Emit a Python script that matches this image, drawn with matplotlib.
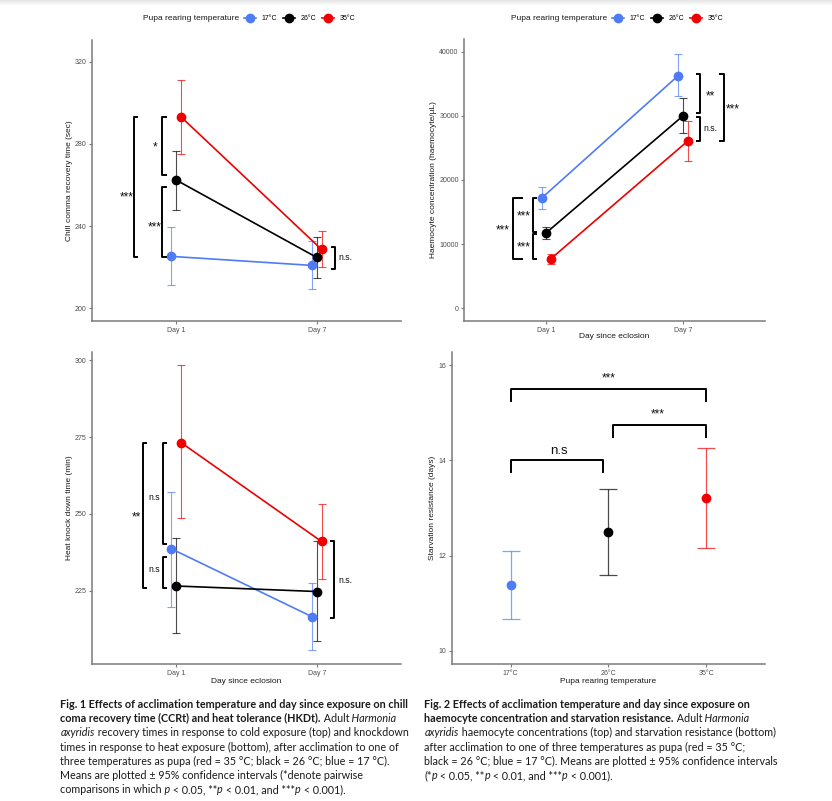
import numpy as np
import matplotlib
matplotlib.use('Agg')
import matplotlib.pyplot as plt

plt.rcParams['font.family'] = ['Liberation Sans', 'DejaVu Sans']

days = ['Day 1', 'Day 7']
temps = ['17°C', '26°C', '35°C']
temp_colors = ['#4f7cf6', 'black', '#ee0000']

# rows = 17, 26, 35 °C ; cols = day 1, day 7
ccrt_mean = [[225.2, 220.8], [262.4, 224.7], [293.2, 228.6]]
ccrt_lo = [[211.1, 209.1], [248.0, 214.5], [275.1, 220.0]]
ccrt_hi = [[239.7, 232.8], [276.7, 234.5], [311.2, 237.4]]

hae_mean = [[17180, 36290], [11780, 30000], [7730, 26060]]
hae_lo = [[15510, 33020], [10840, 27300], [6900, 23000]]
hae_hi = [[18850, 39610], [12710, 32800], [8460, 29180]]

hkdt_mean = [[238.6, 216.5], [226.5, 224.7], [273.2, 241.0]]
hkdt_lo = [[219.8, 205.5], [211.2, 208.5], [248.6, 228.7]]
hkdt_hi = [[257.2, 227.6], [242.1, 241.0], [298.5, 253.3]]

starv_mean = [11.38, 12.50, 13.21]
starv_lo = [10.66, 11.59, 12.16]
starv_hi = [12.10, 13.41, 14.26]

W, H = 832, 801
fig = plt.figure(figsize=(W / 100, H / 100), dpi=100)
dodge = [-0.034, 0.0, 0.034]


def px_axes(left, top, right, bottom):
    return fig.add_axes([left / W, 1 - bottom / H, (right - left) / W, (bottom - top) / H])


def style_axes(ax):
    for s in ['top', 'right']:
        ax.spines[s].set_visible(False)
    for s in ['left', 'bottom']:
        ax.spines[s].set_color('#7a7a7a')
        ax.spines[s].set_linewidth(1.1)
    ax.tick_params(colors='#7a7a7a', labelcolor='#4d4d4d', labelsize=5,
                   length=2.5, width=0.8, pad=1.5)


def day_panel(ax, mean, lo, hi, ylim, yticks):
    x = np.arange(1, len(days) + 1)
    handles = []
    for i, c in enumerate(temp_colors):
        m = np.array(mean[i], dtype=float)
        err = [m - np.array(lo[i]), np.array(hi[i]) - m]
        ax.errorbar(x + dodge[i], m, yerr=err, fmt='none', ecolor=c, alpha=0.7,
                    elinewidth=0.8, capsize=3.2, capthick=0.8, zorder=2)
        h, = ax.plot(x + dodge[i], m, color=c, lw=1.2, marker='o', ms=6, zorder=3)
        handles.append(h)
    ax.set_xticks(x, days)
    ax.set_xlim(0.4, 2.6)
    ax.set_ylim(ylim)
    ax.set_yticks(yticks)
    style_axes(ax)
    return handles


def vbracket(ax, x, y0, y1, tick):
    ax.plot([x + tick, x, x, x + tick], [y0, y0, y1, y1], color='black', lw=1.4,
            solid_capstyle='butt', clip_on=False, zorder=5)


def label(ax, x, y, txt, fs, rise):
    # rise = visual centre of the glyphs above the baseline, in em
    ax.annotate(txt, (x, y), xytext=(0, -rise * fs), textcoords='offset points',
                ha='center', va='baseline', fontsize=fs, color='#111111')


def stars(ax, x, y, txt, fs=8.5):
    label(ax, x, y, txt, fs, 0.57)


def ns(ax, x, y, txt, fs=6.3):
    label(ax, x, y, txt, fs, 0.27)


def top_legend(ax, handles, title_right, key_left, y):
    fig.text(title_right / W, 1 - y / H, 'Pupa rearing temperature', ha='right',
             va='center', fontsize=6, color='#1a1a1a')
    ax.legend(handles, temps, ncol=3, loc='center left',
              bbox_to_anchor=(key_left / W, 1 - y / H), bbox_transform=fig.transFigure,
              frameon=False, fontsize=5, handlelength=1.7, handletextpad=0.8,
              columnspacing=0.9, borderpad=0, borderaxespad=0)


# faint page shadow along the top edge
shade = fig.add_axes([0, 1 - 6 / H, 1, 6 / H])
shade.imshow(np.linspace(0.9, 1.0, 20).reshape(-1, 1), cmap='gray', vmin=0, vmax=1,
             aspect='auto')
shade.axis('off')

# ---- chill coma recovery
ax1 = px_axes(92, 40, 401, 321)
h1 = day_panel(ax1, ccrt_mean, ccrt_lo, ccrt_hi, (193.7, 330.7), [200, 240, 280, 320])
ax1.set_ylabel('Chill comma recovery time (sec)', fontsize=6, color='#1a1a1a')
ax1.yaxis.set_label_coords(-0.062, 0.5)
top_legend(ax1, h1, 239.5, 244, 19)
vbracket(ax1, 0.70, 224.9, 293.2, 0.03)
stars(ax1, 0.648, 255.9, '***')
vbracket(ax1, 0.90, 265.0, 293.2, 0.033)
stars(ax1, 0.85, 280.0, '*')
vbracket(ax1, 0.90, 224.9, 259.2, 0.033)
stars(ax1, 0.848, 241.0, '***')
vbracket(ax1, 2.129, 219.2, 229.9, -0.03)
ns(ax1, 2.205, 224.5, 'n.s.')

# ---- haemocytes
ax2 = px_axes(464.3, 39, 765, 321)
h2 = day_panel(ax2, hae_mean, hae_lo, hae_hi, (-1980, 41980),
               [0, 10000, 20000, 30000, 40000])
ax2.set_ylabel('Haemocyte concentration (haemocyte/µL)', fontsize=6, color='#1a1a1a')
ax2.yaxis.set_label_coords(-0.092, 0.5)
ax2.set_xlabel('Day since eclosion', fontsize=6, color='#1a1a1a')
ax2.xaxis.set_label_coords(0.5, -0.042)
top_legend(ax2, h2, 607.5, 612, 19)
vbracket(ax2, 0.754, 7730, 17180, 0.078)
stars(ax2, 0.681, 12710, '***')
vbracket(ax2, 0.902, 11900, 17180, 0.03)
stars(ax2, 0.834, 14890, '***')
vbracket(ax2, 0.902, 7730, 11570, 0.03)
stars(ax2, 0.834, 10060, '***')
vbracket(ax2, 2.123, 30370, 36450, -0.028)
stars(ax2, 2.20, 33540, '**')
vbracket(ax2, 2.123, 26060, 29840, -0.028)
ns(ax2, 2.20, 27930, 'n.s.')
vbracket(ax2, 2.297, 26060, 36450, -0.03)
stars(ax2, 2.365, 31510, '***')

# ---- heat knock down
ax3 = px_axes(92, 351.7, 401, 664.3)
h3 = day_panel(ax3, hkdt_mean, hkdt_lo, hkdt_hi, (201.0, 302.8), [225, 250, 275, 300])
ax3.set_ylabel('Heat knock down time (min)', fontsize=6, color='#1a1a1a')
ax3.yaxis.set_label_coords(-0.062, 0.5)
ax3.set_xlabel('Day since eclosion', fontsize=6, color='#1a1a1a')
ax3.xaxis.set_label_coords(0.5, -0.043)
vbracket(ax3, 0.762, 226.0, 273.1, 0.033)
stars(ax3, 0.719, 250.2, '**')
vbracket(ax3, 0.905, 240.1, 273.1, 0.029)
ns(ax3, 0.843, 255.4, 'n.s')
vbracket(ax3, 0.905, 226.0, 236.0, 0.029)
ns(ax3, 0.843, 231.7, 'n.s')
vbracket(ax3, 2.126, 216.1, 241.0, -0.031)
ns(ax3, 2.207, 228.3, 'n.s.')

# ---- starvation resistance
ax4 = px_axes(452, 351.7, 765, 664.3)
xt = np.arange(1, len(temps) + 1)
for i, c in enumerate(temp_colors):
    m = starv_mean[i]
    ax4.errorbar([xt[i]], [m], yerr=[[m - starv_lo[i]], [starv_hi[i] - m]], fmt='none',
                 ecolor=c, alpha=0.7, elinewidth=0.9, capsize=6.7, capthick=0.9, zorder=2)
    ax4.plot([xt[i]], [m], 'o', color=c, ms=6, zorder=3)
ax4.set_xticks(xt, temps)
ax4.set_xlim(0.4, 3.6)
ax4.set_ylim(9.71, 16.29)
ax4.set_yticks([10, 12, 14, 16])
style_axes(ax4)
ax4.set_ylabel('Starvation resistance (days)', fontsize=6, color='#1a1a1a')
ax4.yaxis.set_label_coords(-0.05, 0.5)
ax4.set_xlabel('Pupa rearing temperature', fontsize=6, color='#1a1a1a')
ax4.xaxis.set_label_coords(0.5, -0.043)


def hbracket(ax, x0, x1, y, drop):
    ax.plot([x0, x0, x1, x1], [y - drop, y, y, y - drop], color='black', lw=1.4,
            clip_on=False, zorder=5)


hbracket(ax4, 1, 3, 15.50, 0.25)
stars(ax4, 2.0, 15.80, '***')
hbracket(ax4, 2.05, 3, 14.75, 0.25)
stars(ax4, 2.5, 15.05, '***')
hbracket(ax4, 1, 1.948, 14.0, 0.24)
ns(ax4, 1.494, 14.215, 'n.s', fs=9.5)

# ---- captions
B = dict(weight='bold')
N = dict()
I = dict(style='italic')

cap1 = [
    [('Fig. 1 Effects of acclimation temperature and day since exposure on chill', B)],
    [('coma recovery time (CCRt) and heat tolerance (HKDt).', B), (' Adult', N), (' Harmonia', I)],
    [('axyridis', I), (' recovery times in response to cold exposure (top) and knockdown', N)],
    [('times in response to heat exposure (bottom), after acclimation to one of', N)],
    [('three temperatures as pupa (red = 35 °C; black = 26 °C; blue = 17 °C).', N)],
    [('Means are plotted ± 95% confidence intervals (*denote pairwise', N)],
    [('comparisons in which', N), (' p', I), (' < 0.05, **', N), ('p', I),
     (' < 0.01, and ***', N), ('p', I), (' < 0.001).', N)],
]
cap2 = [
    [('Fig. 2 Effects of acclimation temperature and day since exposure on', B)],
    [('haemocyte concentration and starvation resistance.', B), (' Adult', N), (' Harmonia', I)],
    [('axyridis', I), (' haemocyte concentrations (top) and starvation resistance (bottom)', N)],
    [('after acclimation to one of three temperatures as pupa (red = 35 °C;', N)],
    [('black = 26 °C; blue = 17 °C). Means are plotted ± 95% confidence intervals', N)],
    [('(*', N), ('p', I), (' < 0.05, **', N), ('p', I), (' < 0.01, and ***', N), ('p', I),
     (' < 0.001).', N)],
]

renderer = fig.canvas.get_renderer()
cap_font = 'Lato'
probe = fig.text(0, 0, cap1[0][0][0], fontsize=10, family=cap_font, weight='bold')
cap_size = 10 * 346 / probe.get_window_extent(renderer).width
probe.remove()


def caption(x0, lines):
    for k, line in enumerate(lines):
        x = x0
        y = 708 + 14.2 * k
        for txt, kw in line:
            t = fig.text(x / W, 1 - y / H, txt, fontsize=cap_size, family=cap_font,
                         color='#1a1a1a', va='baseline', ha='left', **kw)
            x += t.get_window_extent(renderer).width


caption(60.3, cap1)
caption(424.3, cap2)

fig.savefig('out.png', dpi=100)
